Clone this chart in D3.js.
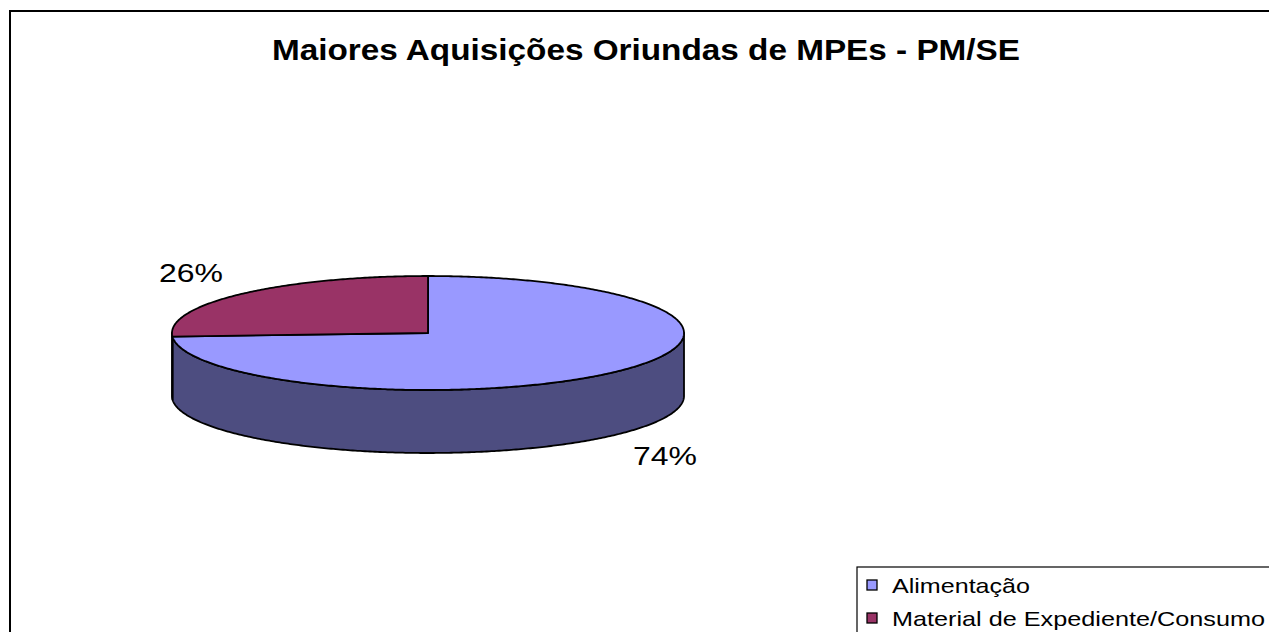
<!DOCTYPE html>
<html>
<head>
<meta charset="utf-8">
<script src="https://cdn.jsdelivr.net/npm/d3@7"></script>
<style>
  html, body { margin: 0; padding: 0; background: #fff; }
  svg { display: block; }
  text { font-family: "Liberation Sans", Arial, sans-serif; fill: #000; }
</style>
</head>
<body>
<svg id="chart" width="1269" height="632"></svg>
<script>
const title = "Maiores Aquisições Oriundas de MPEs - PM/SE";
const categories = ["Alimentação", "Material de Expediente/Consumo"];
const values = [74, 26];
const valueLabels = ["74%", "26%"];
const topColors = ["#9999FF", "#993366"];
const sideColors = ["#4D4D80", "#4D1A33"];

const W = 1269, H = 632;
const svg = d3.select("#chart");
svg.append("rect").attr("width", W).attr("height", H).attr("fill", "#fff");

// outer chart border
svg.append("rect")
  .attr("x", 10).attr("y", 11)
  .attr("width", 1290).attr("height", 700)
  .attr("fill", "none").attr("stroke", "#000").attr("stroke-width", 2);

// title
svg.append("text")
  .attr("x", 646).attr("y", 60)
  .attr("text-anchor", "middle")
  .attr("font-size", 29).attr("font-weight", "bold")
  .attr("textLength", 748).attr("lengthAdjust", "spacingAndGlyphs")
  .text(title);

// 3D pie geometry
const cx = 428, cy = 333, rx = 256, ry = 57, depth = 63;
const pie = d3.pie().sort(null).value(d => d)(values);
const ex = (th) => cx + rx * Math.sin(th);
const ey = (th) => cy - ry * Math.cos(th);

function arcPoints(a0, a1, dy) {
  const n = Math.max(2, Math.ceil(Math.abs(a1 - a0) / 0.01));
  const s = d3.scaleLinear().domain([0, n]).range([a0, a1]);
  return d3.range(n + 1).map(i => [ex(s(i)), ey(s(i)) + dy]);
}
const line = d3.line();

// side walls (front half: θ in [π/2, 3π/2])
const front0 = Math.PI / 2, front1 = 3 * Math.PI / 2;
const sideG = svg.append("g");
pie.forEach((p, i) => {
  const a0 = Math.max(p.startAngle, front0), a1 = Math.min(p.endAngle, front1);
  if (a1 <= a0) return;
  const pts = arcPoints(a0, a1, 0).concat(arcPoints(a1, a0, depth));
  sideG.append("path")
    .attr("d", line(pts) + "Z")
    .attr("fill", sideColors[i])
    .attr("stroke", "#000").attr("stroke-width", 1.8).attr("stroke-linejoin", "round");
});

// top faces
const topG = svg.append("g");
pie.forEach((p, i) => {
  const pts = [[cx, cy]].concat(arcPoints(p.startAngle, p.endAngle, 0));
  topG.append("path")
    .attr("d", line(pts) + "Z")
    .attr("fill", topColors[i])
    .attr("stroke", "#000").attr("stroke-width", 1.8).attr("stroke-linejoin", "round");
});

// data labels
pie.forEach((p, i) => {
  const m = (p.startAngle + p.endAngle) / 2;
  const lx = cx + rx * 1.27 * Math.sin(m);
  const ly = cy - ry * 1.55 * Math.cos(m) + (Math.cos(m) < 0 ? depth : 0);
  svg.append("text")
    .attr("x", lx).attr("y", ly + 9)
    .attr("text-anchor", "middle")
    .attr("font-size", 25)
    .attr("textLength", 64).attr("lengthAdjust", "spacingAndGlyphs")
    .text(valueLabels[i]);
});

// legend
const lg = svg.append("g").attr("transform", "translate(857,567)");
lg.append("rect")
  .attr("x", 0).attr("y", 0).attr("width", 500).attr("height", 200)
  .attr("fill", "#fff").attr("stroke", "#000").attr("stroke-width", 1.2);
const legendLens = [138, 373];
const ly0 = d3.scaleLinear().domain([0, 1]).range([0, 33]);
categories.forEach((c, i) => {
  const g = lg.append("g").attr("transform", `translate(0,${ly0(i)})`);
  g.append("rect")
    .attr("x", 10).attr("y", 13).attr("width", 10).attr("height", 10)
    .attr("fill", topColors[i]).attr("stroke", "#000").attr("stroke-width", 1.3);
  g.append("text")
    .attr("x", 35).attr("y", 26)
    .attr("font-size", 21)
    .attr("textLength", legendLens[i]).attr("lengthAdjust", "spacingAndGlyphs")
    .text(c);
});
</script>
</body>
</html>
